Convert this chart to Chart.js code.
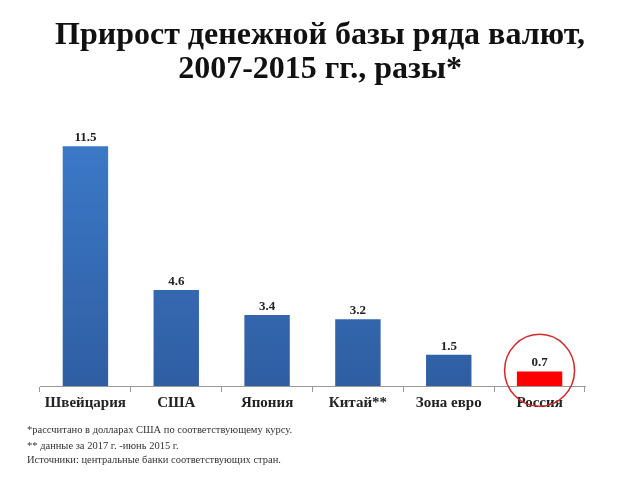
<!DOCTYPE html>
<html>
<head>
<meta charset="utf-8">
<script src="https://cdn.jsdelivr.net/npm/chart.js@4"></script>
<style>
  body { margin: 0; background: #fff; }
  #wrap { position: relative; width: 640px; height: 480px; }
  .note { position: absolute; left: 27px; font: 10.5px "Liberation Serif", serif; color: #333; }
</style>
</head>
<body>
<div id="wrap">
  <canvas id="chart" width="640" height="480"></canvas>
  <div class="note" style="top:424px">*рассчитано в долларах США по соответствующему курсу.</div>
  <div class="note" style="top:440px">** данные за 2017 г. -июнь 2015 г.</div>
  <div class="note" style="top:454px">Источники: центральные банки соответствующих стран.</div>
</div>
<script>
const categories = ['Швейцария', 'США', 'Япония', 'Китай**', 'Зона евро', 'Россия'];
const growth = [11.5, 4.6, 3.4, 3.2, 1.5, 0.7];
const valueLabels = ['11.5', '4.6', '3.4', '3.2', '1.5', '0.7'];
const titleLines = ['Прирост денежной базы ряда валют,', '2007-2015 гг., разы*'];

document.addEventListener('DOMContentLoaded', function () {
    const ctx = document.getElementById('chart').getContext('2d');

    // title centred on the whole page, not on the chart area
    const titlePlugin = {
        id: 'pageTitle',
        afterDraw(chart) {
            const c = chart.ctx;
            c.save();
            c.font = 'bold 32px "Liberation Serif", serif';
            c.fillStyle = '#111';
            c.textAlign = 'center';
            c.textBaseline = 'alphabetic';
            c.fillText(titleLines[0], chart.width / 2, 44);
            c.fillText(titleLines[1], chart.width / 2, 78);
            c.restore();
        }
    };

    // bar values drawn above each bar
    const valuePlugin = {
        id: 'values',
        afterDatasetsDraw(chart) {
            const c = chart.ctx;
            const meta = chart.getDatasetMeta(0);
            c.save();
            c.font = 'bold 13px "Liberation Serif", serif';
            c.fillStyle = '#222';
            c.textAlign = 'center';
            c.textBaseline = 'bottom';
            meta.data.forEach(function (bar, i) {
                c.fillText(valueLabels[i], bar.x, bar.y - 2);
            });
            c.restore();
        }
    };

    // red ring around the last bar
    const ringPlugin = {
        id: 'ring',
        afterDraw(chart) {
            const c = chart.ctx;
            const x = chart.scales.x.getPixelForValue(5);
            const y = chart.scales.y.getPixelForValue(0.75);
            c.save();
            c.strokeStyle = '#d32a2a';
            c.lineWidth = 1.5;
            c.beginPath();
            c.ellipse(x, y, 35, 36, 0, 0, Math.PI * 2);
            c.stroke();
            c.restore();
        }
    };

    new Chart(ctx, {
        type: 'bar',
        data: {
            labels: categories,
            datasets: [{
                data: growth,
                backgroundColor: function (context) {
                    if (context.dataIndex === 5) return '#ff0000';
                    const area = context.chart.chartArea;
                    if (!area) return '#3a72c0';
                    const g = context.chart.ctx.createLinearGradient(0, area.top, 0, area.bottom);
                    g.addColorStop(0, '#3d7ccc');
                    g.addColorStop(1, '#2f5ea2');
                    return g;
                },
                barPercentage: 0.5,
                categoryPercentage: 1
            }]
        },
        options: {
            responsive: false,
            animation: false,
            layout: { padding: { left: 40, right: 55, top: 115, bottom: 66 } },
            plugins: {
                legend: { display: false },
                tooltip: { enabled: false },
                title: { display: false }
            },
            scales: {
                x: {
                    grid: { drawOnChartArea: false, drawTicks: true, tickLength: 6, color: '#999' },
                    border: { display: true, color: '#999' },
                    ticks: {
                        color: '#222',
                        padding: 2,
                        font: { family: '"Liberation Serif", serif', size: 15, weight: 'bold' }
                    }
                },
                y: { display: false, min: 0, max: 13 }
            }
        },
        plugins: [titlePlugin, valuePlugin, ringPlugin]
    });
});
</script>
</body>
</html>
